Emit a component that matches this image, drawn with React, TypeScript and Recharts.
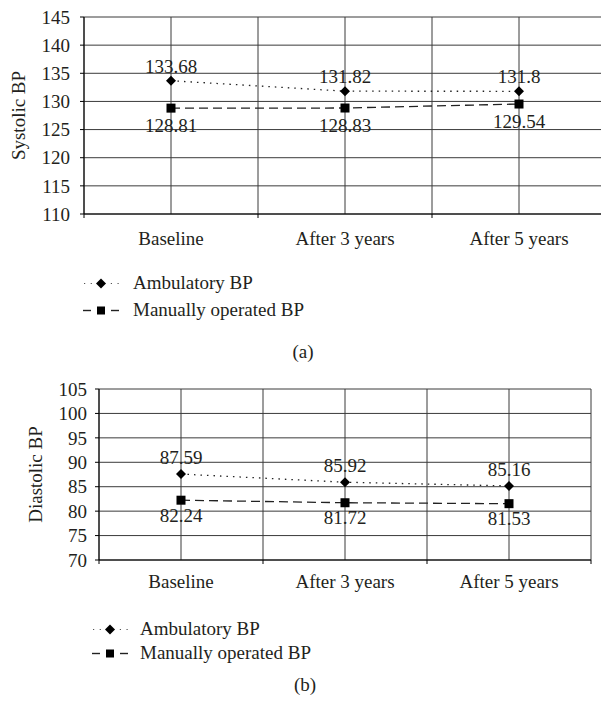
import React from 'react'
import { LineChart, Line, XAxis, YAxis, CartesianGrid, LabelList, Label } from 'recharts'

const categories = ['Baseline', 'After 3 years', 'After 5 years']
const systolicAmbulatory = [133.68, 131.82, 131.8]
const systolicManual = [128.81, 128.83, 129.54]
const diastolicAmbulatory = [87.59, 85.92, 85.16]
const diastolicManual = [82.24, 81.72, 81.53]
const systolicTicks = [110, 115, 120, 125, 130, 135, 140, 145]
const diastolicTicks = [70, 75, 80, 85, 90, 95, 100, 105]
const xTicks = [0, 0.5, 1, 1.5, 2, 2.5, 3]
const seriesNames = ['Ambulatory BP', 'Manually operated BP']

const FONT = '"Liberation Serif", "DejaVu Serif", serif'
const INK = '#231f20'
const GRID = '#3a3a3a'

function buildRows(amb: number[], man: number[]) {
  return categories.map((name, i) => ({ x: i + 0.5, name, ambulatory: amb[i], manual: man[i] }))
}

const Diamond = (props: any) => {
  const { cx, cy } = props
  if (cx == null || cy == null) return null
  const r = 5
  return <polygon points={`${cx},${cy - r} ${cx + r},${cy} ${cx},${cy + r} ${cx - r},${cy}`} fill="#000" />
}

const Square = (props: any) => {
  const { cx, cy } = props
  if (cx == null || cy == null) return null
  return <rect x={cx - 4.5} y={cy - 4.5} width={9} height={9} fill="#000" />
}

// category labels sit between the integer tick marks
function makeTick(labelDy: number) {
  return (props: any) => {
    const { x, y, payload } = props
    const v = payload.value as number
    if (Number.isInteger(v)) {
      return <line x1={x} y1={y} x2={x} y2={y + 4} stroke="#000" strokeWidth={1} />
    }
    return (
      <text x={x} y={y + labelDy} textAnchor="middle" fill={INK} fontSize={19} fontFamily={FONT}>
        {categories[Math.floor(v)]}
      </text>
    )
  }
}

type ChartProps = {
  amb: number[]
  man: number[]
  ticks: number[]
  yLabel: string
  width: number
  height: number
  axisWidth: number
  labelX: number
  tickMargin: number
  rightMargin: number
  labelDy: number
  topOffset: number
  bottomOffset: number
}

function BPChart(p: ChartProps) {
  const data = buildRows(p.amb, p.man)
  return (
    <LineChart
      width={p.width}
      height={p.height}
      data={data}
      margin={{ top: 17, right: p.rightMargin, left: 0, bottom: 0 }}
    >
      <CartesianGrid stroke={GRID} strokeWidth={1} />
      <XAxis
        type="number"
        dataKey="x"
        domain={[0, 3]}
        ticks={xTicks}
        interval={0}
        height={46}
        tickSize={0}
        tickMargin={0}
        axisLine={{ stroke: '#000' }}
        tick={makeTick(p.labelDy)}
      />
      <YAxis
        domain={[p.ticks[0], p.ticks[p.ticks.length - 1]]}
        ticks={p.ticks}
        interval={0}
        width={p.axisWidth}
        tickSize={4}
        tickMargin={p.tickMargin}
        axisLine={{ stroke: '#000' }}
        tickLine={{ stroke: '#000' }}
        tick={{ fill: INK, fontSize: 19, fontFamily: FONT }}
      >
        <Label
          value={p.yLabel}
          angle={-90}
          position="insideLeft"
          offset={p.labelX}
          style={{ textAnchor: 'middle', fill: INK, fontSize: 19, fontFamily: FONT }}
        />
      </YAxis>
      <Line
        type="linear"
        dataKey="ambulatory"
        stroke="#222"
        strokeWidth={1.3}
        strokeDasharray="1.5 5"
        dot={<Diamond />}
        activeDot={false}
        isAnimationActive={false}
      >
        <LabelList dataKey="ambulatory" position="top" offset={p.topOffset} fill={INK} fontSize={19} fontFamily={FONT} />
      </Line>
      <Line
        type="linear"
        dataKey="manual"
        stroke="#222"
        strokeWidth={1.3}
        strokeDasharray="9 5"
        dot={<Square />}
        activeDot={false}
        isAnimationActive={false}
      >
        <LabelList dataKey="manual" position="bottom" offset={p.bottomOffset} fill={INK} fontSize={19} fontFamily={FONT} />
      </Line>
    </LineChart>
  )
}

function LegendBlock({ left, textLeft, top, gap }: { left: number; textLeft: number; top: number; gap: number }) {
  const w = 36
  const c = w / 2
  return (
    <div style={{ position: 'absolute', left, top }}>
      {seriesNames.map((name, i) => (
        <div key={name} style={{ position: 'absolute', top: i * gap, left: 0, height: 24, width: 400 }}>
          <svg width={w} height={24} style={{ position: 'absolute', left: 0, top: 0 }}>
            {i === 0 ? (
              <>
                <line x1={1} y1={12.5} x2={w} y2={12.5} stroke="#555" strokeWidth={1.2} strokeDasharray="1.2 5.5" />
                <polygon points={`${c},7.5 ${c + 5},12.5 ${c},17.5 ${c - 5},12.5`} fill="#000" />
              </>
            ) : (
              <>
                <line x1={0} y1={12.5} x2={8} y2={12.5} stroke="#222" strokeWidth={1.4} />
                <rect x={c - 4} y={8.5} width={8} height={8} fill="#000" />
                <line x1={w - 8} y1={12.5} x2={w} y2={12.5} stroke="#222" strokeWidth={1.4} />
              </>
            )}
          </svg>
          <span
            style={{
              position: 'absolute',
              left: textLeft - left,
              top: 0,
              lineHeight: '24px',
              fontSize: 19,
              fontFamily: FONT,
              color: INK,
              whiteSpace: 'nowrap',
            }}
          >
            {name}
          </span>
        </div>
      ))}
    </div>
  )
}

function Caption({ text, x, y }: { text: string; x: number; y: number }) {
  return (
    <div
      style={{
        position: 'absolute',
        left: x - 30,
        top: y - 12,
        width: 60,
        textAlign: 'center',
        lineHeight: '24px',
        fontSize: 19,
        fontFamily: FONT,
        color: INK,
      }}
    >
      {text}
    </div>
  )
}

export default function App() {
  return (
    <div
      style={{
        position: 'absolute',
        left: 0,
        top: 0,
        width: 601,
        height: 703,
        overflow: 'hidden',
        background: '#fff',
      }}
    >
      <div style={{ position: 'absolute', left: 0, top: 0 }}>
        <BPChart
          amb={systolicAmbulatory}
          man={systolicManual}
          ticks={systolicTicks}
          yLabel="Systolic BP"
          width={610}
          height={260}
          axisWidth={84}
          labelX={18}
          tickMargin={10}
          rightMargin={4}
          labelDy={31}
          topOffset={8}
          bottomOffset={10}
        />
      </div>
      <LegendBlock left={83} textLeft={133} top={271} gap={27} />
      <Caption text="(a)" x={303} y={352} />

      <div style={{ position: 'absolute', left: 0, top: 372 }}>
        <BPChart
          amb={diastolicAmbulatory}
          man={diastolicManual}
          ticks={diastolicTicks}
          yLabel="Diastolic BP"
          width={601}
          height={234}
          axisWidth={99}
          labelX={35}
          tickMargin={8}
          rightMargin={10}
          labelDy={28}
          topOffset={10}
          bottomOffset={8}
        />
      </div>
      <LegendBlock left={92} textLeft={140} top={617} gap={24} />
      <Caption text="(b)" x={305} y={685} />
    </div>
  )
}
